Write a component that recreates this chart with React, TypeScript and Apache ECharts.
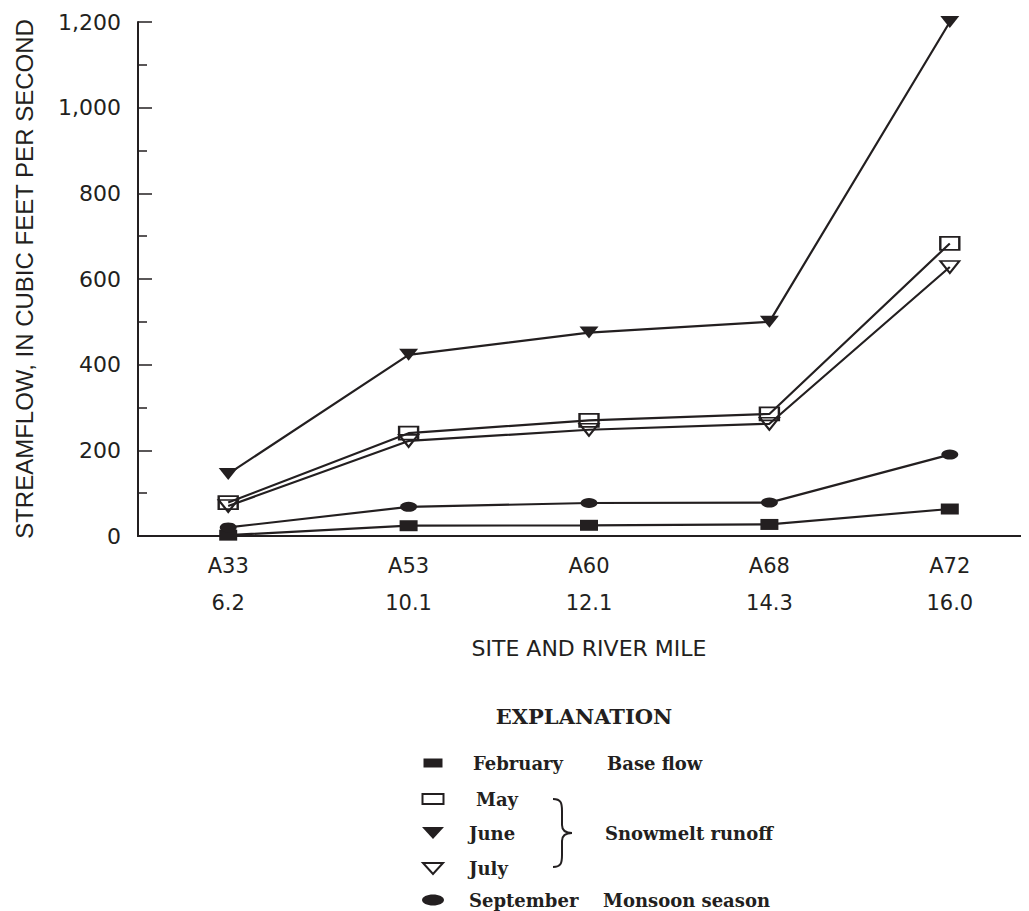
import React, { useEffect, useRef } from 'react';
import * as echarts from 'echarts';

// ---- data ----
const sites = ['A33', 'A53', 'A60', 'A68', 'A72'];
const riverMiles = ['6.2', '10.1', '12.1', '14.3', '16.0'];
const february = [2, 24, 25, 27, 63];
const may = [78, 240, 270, 285, 683];
const june = [145, 423, 475, 500, 1200];
const july = [70, 222, 248, 262, 628];
const september = [20, 68, 77, 78, 190];
const yMin = 0;
const yMax = 1200;
const yInterval = 200;
const legendMonths = ['February', 'May', 'June', 'July', 'September'];
const legendGroups = ['Base flow', 'Snowmelt runoff', 'Monsoon season'];

const INK = '#231f20';
const SANS = '"DejaVu Sans", Arial, sans-serif';
const SERIF = '"DejaVu Serif", serif';

echarts.graphic.registerShape(
  'brace',
  echarts.graphic.extendPath(
    'M0,0 C8,0 9,4 9,12 L9,26 C9,31 12,34 19,34 C12,34 9,37 9,42 L9,56 C9,64 8,68 0,68',
    {}
  )
);

function mk(name: string, data: number[], symbol: string, size: number[], filled: boolean, rotate = 0) {
  return {
    name,
    type: 'line',
    data,
    symbol,
    symbolSize: size,
    symbolRotate: rotate,
    showSymbol: true,
    silent: true,
    lineStyle: { color: INK, width: 2.2 },
    itemStyle: filled
      ? { color: INK }
      : { color: 'rgba(0,0,0,0)', borderColor: INK, borderWidth: 2 },
    emphasis: { disabled: true },
  };
}

export default function App() {
  const ref = useRef<HTMLDivElement>(null);
  useEffect(() => {
    if (!ref.current) return;
    const chart = echarts.init(ref.current, undefined, { renderer: 'svg' });
    const legendStyle = { fill: INK, font: `bold 18px ${SERIF}`, textVerticalAlign: 'middle' } as any;
    const rowY = [755, 791, 825, 860, 892];
    const textX = [465, 468, 461, 461, 461];
    chart.setOption({
      animation: false,
      grid: { left: 130, right: 8, top: 14, bottom: 375, containLabel: false, outerBoundsMode: 'none' },
      xAxis: [
        {
          type: 'category',
          data: sites,
          position: 'bottom',
          boundaryGap: true,
          name: 'SITE AND RIVER MILE',
          nameLocation: 'middle',
          nameGap: 101,
          nameTextStyle: { color: INK, fontFamily: SANS, fontSize: 22 },
          axisLine: { lineStyle: { color: INK, width: 2 } },
          axisTick: { inside: true, length: 16, alignWithLabel: true, lineStyle: { color: INK, width: 1.5 } },
          axisLabel: {
            color: INK,
            fontFamily: SANS,
            fontSize: 21,
            lineHeight: 37,
            margin: 11,
            formatter: (v: string, i: number) => `${v}\n${riverMiles[i]}`,
          },
          splitLine: { show: false },
        },
        {
          type: 'category',
          data: sites,
          position: 'top',
          boundaryGap: true,
          axisLine: { lineStyle: { color: INK, width: 2 } },
          axisTick: { inside: true, length: 15, alignWithLabel: true, lineStyle: { color: INK, width: 1.5 } },
          axisLabel: { show: false },
          splitLine: { show: false },
        },
      ],
      yAxis: [
        {
          type: 'value',
          min: yMin,
          max: yMax,
          interval: yInterval,
          position: 'left',
          name: 'STREAMFLOW, IN CUBIC FEET PER SECOND',
          nameLocation: 'middle',
          nameRotate: 90,
          nameGap: 102,
          nameTextStyle: { color: INK, fontFamily: 'Liberation Sans, Arial, sans-serif', fontSize: 24 },
          axisLine: { show: true, lineStyle: { color: INK, width: 2 } },
          axisTick: { show: true, inside: true, length: 14, lineStyle: { color: INK, width: 1.5 } },
          minorTick: { show: true, splitNumber: 2, length: 9, lineStyle: { color: INK, width: 1.5 } },
          axisLabel: {
            color: INK,
            fontFamily: SANS,
            fontSize: 22,
            margin: 17,
            formatter: (v: number) => v.toLocaleString('en-US'),
          },
          splitLine: { show: false },
        },
        {
          type: 'value',
          min: yMin,
          max: yMax,
          interval: yInterval,
          position: 'right',
          axisLine: { show: true, lineStyle: { color: INK, width: 2 } },
          axisTick: { show: true, inside: true, length: 14, lineStyle: { color: INK, width: 1.5 } },
          minorTick: { show: true, splitNumber: 2, length: 9, lineStyle: { color: INK, width: 1.5 } },
          axisLabel: { show: false },
          splitLine: { show: false },
        },
      ],
      series: [
        mk('February', february, 'rect', [18, 11], true),
        mk('May', may, 'rect', [19, 13], false),
        mk('June', june, 'triangle', [19, 12], true, 180),
        mk('July', july, 'triangle', [19, 12], false, 180),
        mk('September', september, 'circle', [17, 10], true),
      ],
      graphic: [
        {
          type: 'text',
          x: 576,
          y: 708,
          style: { text: 'EXPLANATION', fill: INK, font: `bold 21px ${SERIF}`, textAlign: 'center', textVerticalAlign: 'middle' },
        },
        { type: 'rect', shape: { x: 415.5, y: 750.5, width: 19, height: 9 }, style: { fill: INK } },
        { type: 'rect', shape: { x: 414.5, y: 786, width: 21, height: 10 }, style: { fill: 'none', stroke: INK, lineWidth: 2 } },
        { type: 'polygon', shape: { points: [[414, 819], [436, 819], [425, 831]] }, style: { fill: INK } },
        { type: 'polygon', shape: { points: [[415, 855], [435, 855], [425, 866]] }, style: { fill: 'none', stroke: INK, lineWidth: 2 } },
        { type: 'ellipse', shape: { cx: 425, cy: 892, rx: 11, ry: 5.5 }, style: { fill: INK } },
        ...legendMonths.map((m, i) => ({
          type: 'text',
          x: textX[i],
          y: rowY[i],
          style: { ...legendStyle, text: m },
        })),
        { type: 'text', x: 599, y: 755, style: { ...legendStyle, text: legendGroups[0] } },
        { type: 'text', x: 597, y: 825, style: { ...legendStyle, text: legendGroups[1] } },
        { type: 'text', x: 595, y: 892, style: { ...legendStyle, text: legendGroups[2] } },
        { type: 'brace', x: 545, y: 791, style: { fill: 'none', stroke: INK, lineWidth: 2 } },
      ],
    });
    return () => chart.dispose();
  }, []);
  return (
    <div style={{ width: 1021, height: 903, overflow: 'hidden' }}>
      <div ref={ref} style={{ width: 1040, height: 903 }} />
    </div>
  );
}
